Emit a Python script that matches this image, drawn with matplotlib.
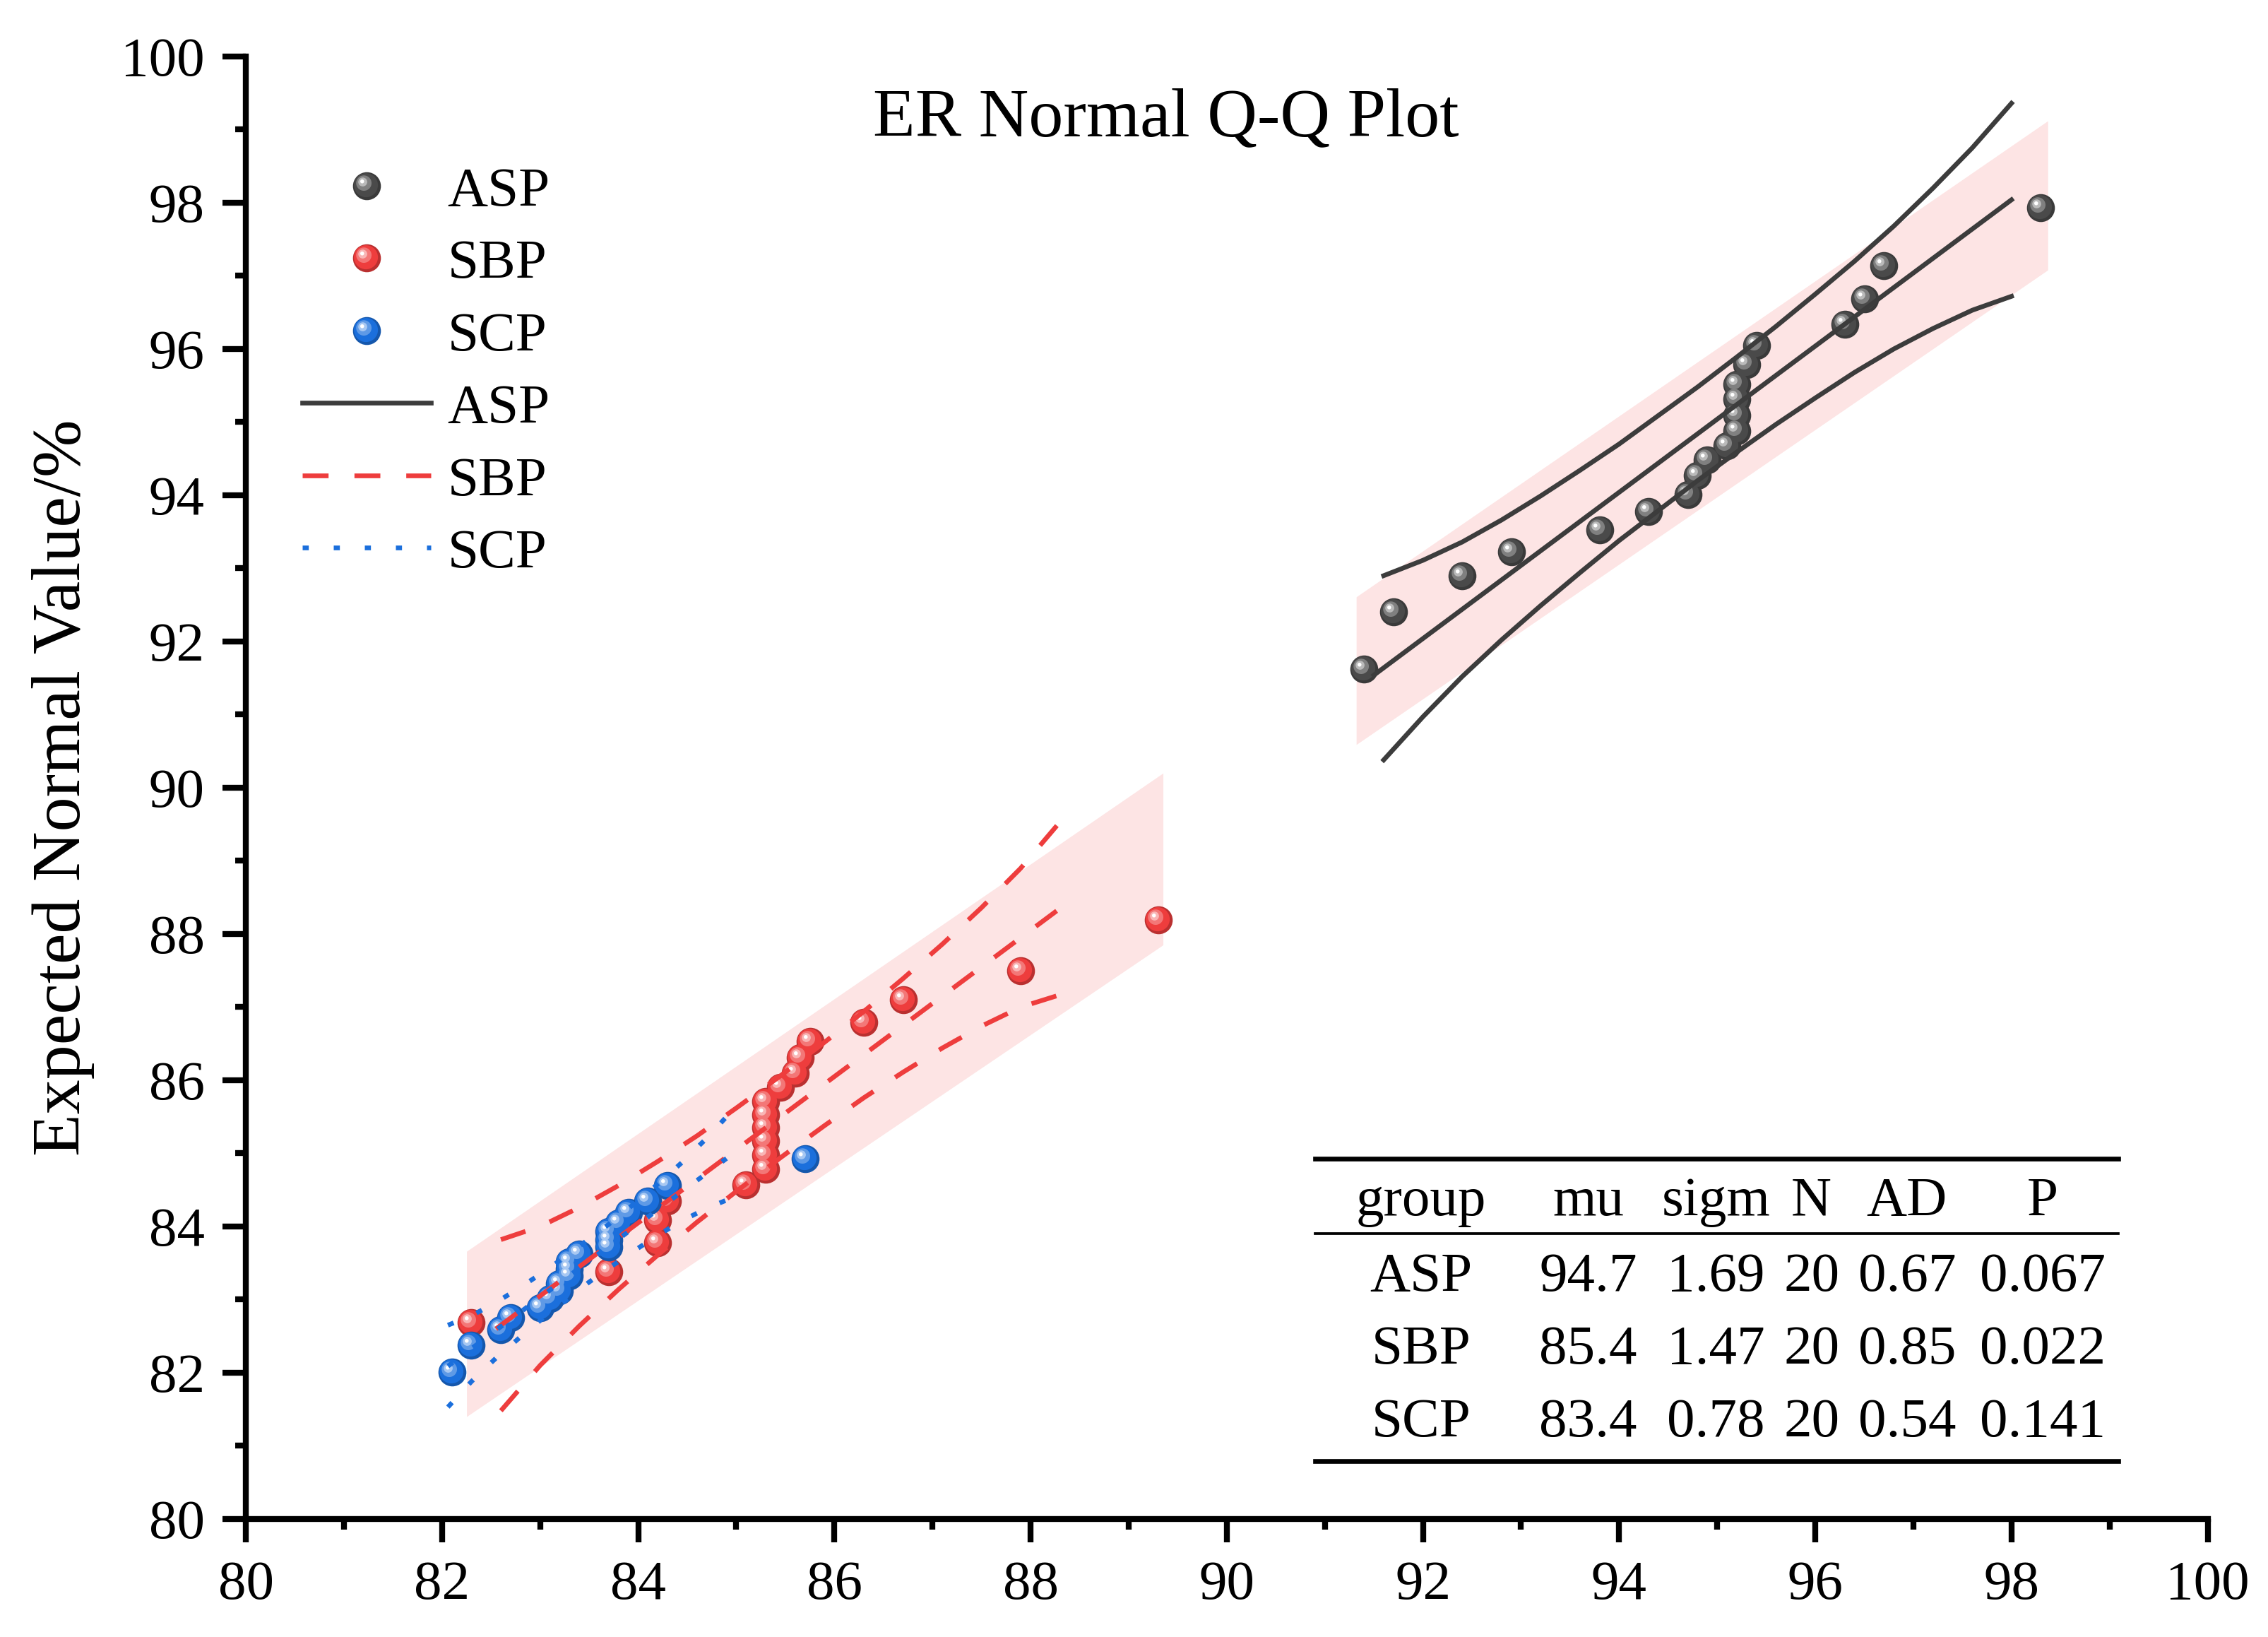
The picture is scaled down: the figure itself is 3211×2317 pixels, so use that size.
import numpy as np
import matplotlib
matplotlib.use('Agg')
import matplotlib.pyplot as plt
from matplotlib.path import Path
from matplotlib.colors import to_rgb
from matplotlib.legend_handler import HandlerTuple

plt.rcParams['font.family'] = ['Liberation Serif', 'DejaVu Serif']

# observed values (x) and expected normal values (y), sorted
asp_x = [91.4, 91.7, 92.4, 92.9, 93.8, 94.3, 94.7, 94.8, 94.9, 95.1,
         95.2, 95.2, 95.2, 95.2, 95.3, 95.4, 96.3, 96.5, 96.7, 98.3]
asp_y = [91.62, 92.41, 92.90, 93.23, 93.53, 93.78, 94.01, 94.27, 94.48, 94.68,
         94.88, 95.09, 95.31, 95.52, 95.79, 96.05, 96.34, 96.69, 97.14, 97.93]
sbp_x = [82.3, 83.7, 84.2, 84.2, 84.3, 85.1, 85.3, 85.3, 85.3, 85.3,
         85.3, 85.3, 85.45, 85.6, 85.65, 85.75, 86.3, 86.7, 87.9, 89.3]
sbp_y = [82.69, 83.38, 83.78, 84.09, 84.35, 84.57, 84.78, 84.98, 85.17, 85.35,
         85.53, 85.71, 85.90, 86.10, 86.31, 86.53, 86.79, 87.10, 87.50, 88.19]
scp_x = [82.1, 82.3, 82.6, 82.7, 83.0, 83.1, 83.2, 83.2, 83.3, 83.3,
         83.3, 83.4, 83.7, 83.7, 83.7, 83.8, 83.9, 84.1, 84.3, 85.7]
scp_y = [82.01, 82.38, 82.59, 82.75, 82.89, 83.01, 83.12, 83.22, 83.32, 83.42,
         83.52, 83.62, 83.72, 83.82, 83.93, 84.05, 84.19, 84.35, 84.56, 84.93]

# reference lines and confidence bands
asp_lx = [91.5, 98.0]
asp_ly = [91.54, 98.04]
asp_bx = [91.6, 92.0, 92.4, 92.8, 93.2, 93.6, 94.0, 94.4, 94.8,
          95.2, 95.6, 96.0, 96.4, 96.8, 97.2, 97.6, 98.0]
asp_up = [92.90, 93.11, 93.36, 93.66, 93.99, 94.34, 94.70, 95.09, 95.48,
          95.89, 96.31, 96.75, 97.20, 97.68, 98.20, 98.75, 99.36]
asp_lo = [90.38, 90.97, 91.52, 92.02, 92.49, 92.94, 93.38, 93.79, 94.20,
          94.59, 94.97, 95.33, 95.68, 96.00, 96.28, 96.53, 96.72]

sbp_lx = [82.55, 88.45]
sbp_ly = [82.60, 88.50]
sbp_bx = [82.6, 83.0, 83.4, 83.8, 84.2, 84.6, 85.0, 85.45,
          85.9, 86.3, 86.7, 87.1, 87.5, 87.9, 88.4]
sbp_up = [83.82, 84.00, 84.26, 84.56, 84.89, 85.24, 85.62, 86.06,
          86.52, 86.94, 87.39, 87.86, 88.36, 88.90, 89.69]
sbp_lo = [81.48, 82.10, 82.64, 83.14, 83.61, 84.06, 84.48, 84.94,
          85.38, 85.76, 86.11, 86.44, 86.74, 87.00, 87.21]

scp_lx = [82.06, 84.9]
scp_ly = [82.09, 84.93]
scp_bx = [82.06, 82.3, 82.55, 82.8, 83.05, 83.3, 83.5, 83.7,
          83.95, 84.2, 84.45, 84.7, 84.9]
scp_up = [82.65, 82.78, 82.96, 83.17, 83.39, 83.63, 83.83, 84.03,
          84.30, 84.58, 84.88, 85.21, 85.50]
scp_lo = [81.53, 81.88, 82.20, 82.49, 82.77, 83.03, 83.24, 83.43,
          83.66, 83.88, 84.08, 84.25, 84.36]

# shaded bands
asp_sx = [91.32, 98.37]
asp_slo = [90.59, 97.08]
asp_shi = [92.61, 99.12]
sbp_sx = [82.25, 89.35]
sbp_slo = [81.40, 87.85]
sbp_shi = [83.66, 90.20]

# summary table
tab_cols = ['group', 'mu', 'sigm', 'N', 'AD', 'P']
tab_rows = [['ASP', '94.7', '1.69', '20', '0.67', '0.067'],
            ['SBP', '85.4', '1.47', '20', '0.85', '0.022'],
            ['SCP', '83.4', '0.78', '20', '0.54', '0.141']]

c_asp, c_sbp, c_scp = '#4a4a4a', '#ee3d3d', '#1b6fdc'
c_line = '#3c3c3c'
c_band = '#fde4e4'


def ball(ax, x, y, color, ms=9.5, z=3):
    base = np.array(to_rgb(color))
    arts = []
    l, = ax.plot(x, y, ls='none', marker='o', ms=ms, mew=0,
                 color=base * 0.78, zorder=z)
    arts.append(l)
    for r, c, t in [(0.86, 0.07, 0.0), (0.55, 0.22, 0.3),
                    (0.32, 0.30, 0.62), (0.14, 0.34, 1.0)]:
        p = Path.circle(center=(-c, c), radius=r)
        col = (1 - t) * base + t * np.ones(3)
        l, = ax.plot(x, y, ls='none', marker=p, ms=ms * (c + r), mew=0,
                     color=col, zorder=z)
        arts.append(l)
    return tuple(arts)


fig = plt.figure(figsize=(3211 / 300, 2317 / 300), dpi=300)
ax = fig.add_axes([0.1084, 0.0721, 0.8650, 0.8934])

ax.fill_between(asp_sx, asp_slo, asp_shi, color=c_band, lw=0, zorder=1)
ax.fill_between(sbp_sx, sbp_slo, sbp_shi, color=c_band, lw=0, zorder=1)

h_asp = ball(ax, asp_x, asp_y, c_asp)
h_sbp = ball(ax, sbp_x, sbp_y, c_sbp)
h_scp = ball(ax, scp_x, scp_y, c_scp)

lw = 1.6
dash = (0, (5.5, 5.5))
dot = (0, (1.3, 5.3))
la, = ax.plot(asp_lx, asp_ly, color=c_line, lw=lw, zorder=4)
ax.plot(asp_bx, asp_up, color=c_line, lw=lw, zorder=4)
ax.plot(asp_bx, asp_lo, color=c_line, lw=lw, zorder=4)
lb, = ax.plot(sbp_lx, sbp_ly, color=c_sbp, lw=lw, ls=dash, zorder=4)
ax.plot(sbp_bx, sbp_up, color=c_sbp, lw=lw, ls=dash, zorder=4)
ax.plot(sbp_bx, sbp_lo, color=c_sbp, lw=lw, ls=dash, zorder=4)
lc, = ax.plot(scp_lx, scp_ly, color=c_scp, lw=lw, ls=dot, zorder=4)
ax.plot(scp_bx, scp_up, color=c_scp, lw=lw, ls=dot, zorder=4)
ax.plot(scp_bx, scp_lo, color=c_scp, lw=lw, ls=dot, zorder=4)

ax.set_xlim(80, 100)
ax.set_ylim(80, 100)
ax.set_xticks(np.arange(80, 101, 2))
ax.set_yticks(np.arange(80, 101, 2))
ax.set_xticks(np.arange(81, 100, 2), minor=True)
ax.set_yticks(np.arange(81, 100, 2), minor=True)
for s in ['top', 'right']:
    ax.spines[s].set_visible(False)
for s in ['left', 'bottom']:
    ax.spines[s].set_linewidth(2.0)
ax.tick_params(which='major', direction='out', length=8, width=2.0,
               labelsize=19, pad=6)
ax.tick_params(which='minor', direction='out', length=3.5, width=2.0)
ax.set_ylabel('Expected Normal Value/%', fontsize=23.5, labelpad=9)

ax.text(0.469, 0.957, 'ER Normal Q-Q Plot', transform=ax.transAxes,
        ha='center', va='center', fontsize=23.5)

leg = ax.legend([h_asp, h_sbp, h_scp, la, lb, lc],
                ['ASP', 'SBP', 'SCP', 'ASP', 'SBP', 'SCP'],
                handler_map={tuple: HandlerTuple(ndivide=1, pad=0)},
                loc='upper left', bbox_to_anchor=(0.0287, 0.925),
                frameon=False, fontsize=19, numpoints=1,
                handlelength=2.3, handletextpad=0.3, labelspacing=0.38,
                borderaxespad=0, borderpad=0)

# table
col_x = [0.5991, 0.6843, 0.7493, 0.7981, 0.8467, 0.9159]
row_y = [0.2169, 0.165, 0.1152, 0.0654]
tx0, tx1 = 0.5449, 0.9544
ax.plot([tx0, tx1], [0.2464, 0.2464], color='k', lw=1.6,
        transform=ax.transAxes, clip_on=False, zorder=5)
ax.plot([tx0, tx1], [0.195, 0.195], color='k', lw=0.9,
        transform=ax.transAxes, clip_on=False, zorder=5)
ax.plot([tx0, tx1], [0.0397, 0.0397], color='k', lw=1.6,
        transform=ax.transAxes, clip_on=False, zorder=5)
for cx, name in zip(col_x, tab_cols):
    ax.text(cx, row_y[0], name, transform=ax.transAxes, ha='center',
            va='center', fontsize=19)
for ry, row in zip(row_y[1:], tab_rows):
    for cx, val in zip(col_x, row):
        ax.text(cx, ry, val, transform=ax.transAxes, ha='center',
                va='center', fontsize=19)

fig.savefig('out.png', dpi=300)
